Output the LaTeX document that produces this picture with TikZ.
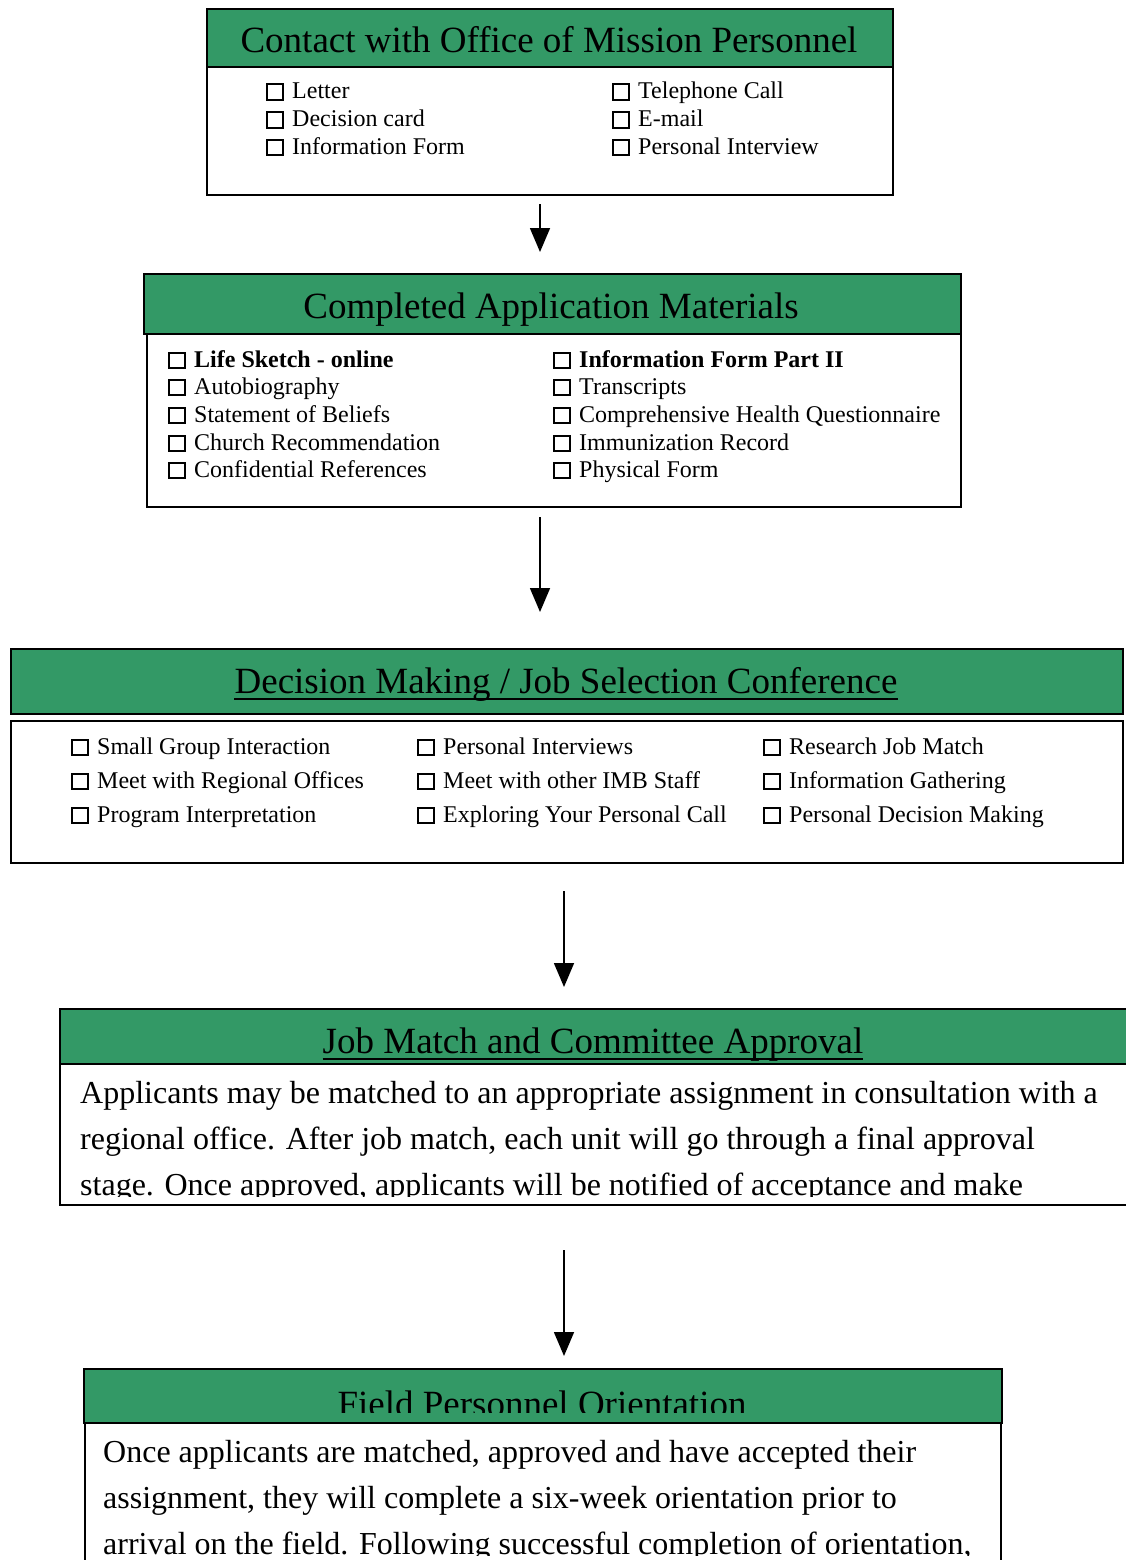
\documentclass[tikz,border=0pt]{standalone}
\usepackage{fontspec}
\setmainfont{Liberation Serif}
\usetikzlibrary{arrows.meta}
\definecolor{bandgreen}{RGB}{51,153,102}
\newcommand\cbx{{\setlength\fboxsep{0pt}\setlength\fboxrule{2pt}\fbox{\rule{0pt}{13.5pt}\hspace{13.5pt}}}\hspace{8.5pt}}
\tikzset{
  band/.style={draw=black, line width=2pt, fill=bandgreen, anchor=north west, inner sep=0pt},
  body/.style={draw=black, line width=2pt, fill=white, anchor=north west, inner sep=0pt},
  ttl/.style={anchor=base, inner sep=0pt, font=\fontsize{37}{44}\selectfont},
  item/.style={anchor=base west, inner sep=0pt, font=\fontsize{24}{28}\selectfont},
  para/.style={anchor=base west, inner sep=0pt, font=\fontsize{32}{46}\selectfont},
  ul/.style={line width=2pt},
  arr/.style={line width=1.6pt, -{Triangle[length=24pt,width=20pt]}}
}
\begin{document}
\begin{tikzpicture}[x=1pt,y=-1pt]
\useasboundingbox (0,0) rectangle (1126,1560);
\fill[white] (0,0) rectangle (1126,1560);

% ---------- Box 1 ----------
\node[band, minimum width=686pt, minimum height=58pt] (t1) at (206,8) {};
\node[body, minimum width=686pt, minimum height=128pt] (b1) at (206,66) {};
\node[ttl] (tt1) at (549,53) {Contact with Office of Mission Personnel};
\node[item] (i1a) at (266,99) {\cbx Letter};
\node[item] (i1b) at (266,127) {\cbx Decision card};
\node[item] (i1c) at (266,154) {\cbx Information Form};
\node[item] (i1d) at (612,99) {\cbx Telephone Call};
\node[item] (i1e) at (612,127) {\cbx E-mail};
\node[item] (i1f) at (612,154) {\cbx Personal Interview};

% ---------- Box 2 ----------
\node[band, minimum width=817pt, minimum height=60pt] (t2) at (143,273) {};
\node[body, minimum width=814pt, minimum height=173pt] (b2) at (146,333) {};
\node[ttl] (tt2) at (551,318) {Completed Application Materials};
\node[item] (i2a) at (168,367) {\cbx\bfseries Life Sketch - online};
\node[item] (i2b) at (168,394) {\cbx Autobiography};
\node[item] (i2c) at (168,422) {\cbx Statement of Beliefs};
\node[item] (i2d) at (168,450) {\cbx Church Recommendation};
\node[item] (i2e) at (168,477) {\cbx Confidential References};
\node[item] (i2f) at (553,367) {\cbx\bfseries Information Form Part II};
\node[item] (i2g) at (553,394) {\cbx Transcripts};
\node[item] (i2h) at (553,422) {\cbx Comprehensive Health Questionnaire};
\node[item] (i2i) at (553,450) {\cbx Immunization Record};
\node[item] (i2j) at (553,477) {\cbx Physical Form};

% ---------- Box 3 ----------
\node[band, minimum width=1112pt, minimum height=65pt] (t3) at (10,648) {};
\node[body, minimum width=1112pt, minimum height=142pt] (b3) at (10,720) {};
\node[ttl] (tt3) at (566,693) {Decision Making / Job Selection Conference};
\draw[ul] ([yshift=-6pt]tt3.base west) -- ([yshift=-6pt]tt3.base east);
\node[item] (i3a) at (71,754) {\cbx Small Group Interaction};
\node[item] (i3b) at (71,788) {\cbx Meet with Regional Offices};
\node[item] (i3c) at (71,822) {\cbx Program Interpretation};
\node[item] (i3d) at (417,754) {\cbx Personal Interviews};
\node[item] (i3e) at (417,788) {\cbx Meet with other IMB Staff};
\node[item] (i3f) at (417,822) {\cbx Exploring Your Personal Call};
\node[item] (i3g) at (763,754) {\cbx Research Job Match};
\node[item] (i3h) at (763,788) {\cbx Information Gathering};
\node[item] (i3i) at (763,822) {\cbx Personal Decision Making};

% ---------- Box 4 ----------
\node[band, minimum width=1072pt, minimum height=55pt] (t4) at (59,1008) {};
\node[body, minimum width=1072pt, minimum height=141pt] (b4) at (59,1063) {};
\node[ttl] (tt4) at (593,1053) {Job Match and Committee Approval};
\draw[ul] ([yshift=-6pt]tt4.base west) -- ([yshift=-6pt]tt4.base east);
\begin{scope}
\clip (60,1064) rectangle (1126,1196);
\node[para] (p4a) at (80,1103) {Applicants may be matched to an appropriate assignment in consultation with a};
\node[para] (p4b) at (80,1149) {regional office. After job match, each unit will go through a final approval};
\node[para] (p4c) at (80,1195) {stage. Once approved, applicants will be notified of acceptance and make};
\end{scope}

% ---------- Box 5 ----------
\node[band, minimum width=918pt, minimum height=54pt] (t5) at (83,1368) {};
\node[body, minimum width=916pt, minimum height=160pt] (b5) at (84,1422) {};
\begin{scope}
\clip (84,1369) rectangle (1000,1412);
\node[ttl] (tt5) at (542,1416) {Field Personnel Orientation};
\end{scope}
\begin{scope}
\clip (85,1424) rectangle (999,1555);
\node[para] (p5a) at (103,1462) {Once applicants are matched, approved and have accepted their};
\node[para] (p5b) at (103,1508) {assignment, they will complete a six-week orientation prior to};
\node[para] (p5c) at (103,1554) {arrival on the field. Following successful completion of orientation,};
\end{scope}

% ---------- Arrows ----------
\draw[arr] ([xshift=-10pt,yshift=-8pt]b1.south) -- ([xshift=-12.5pt,yshift=21pt]t2.north);
\draw[arr] ([xshift=-14pt,yshift=-9pt]b2.south) -- ([xshift=-27pt,yshift=36pt]t3.north);
\draw[arr] ([xshift=-3pt,yshift=-27pt]b3.south) -- ([xshift=-32pt,yshift=21pt]t4.north);
\draw[arr] ([xshift=-32pt,yshift=-44pt]b4.south) -- ([xshift=21pt,yshift=12pt]t5.north);
\end{tikzpicture}
\end{document}
